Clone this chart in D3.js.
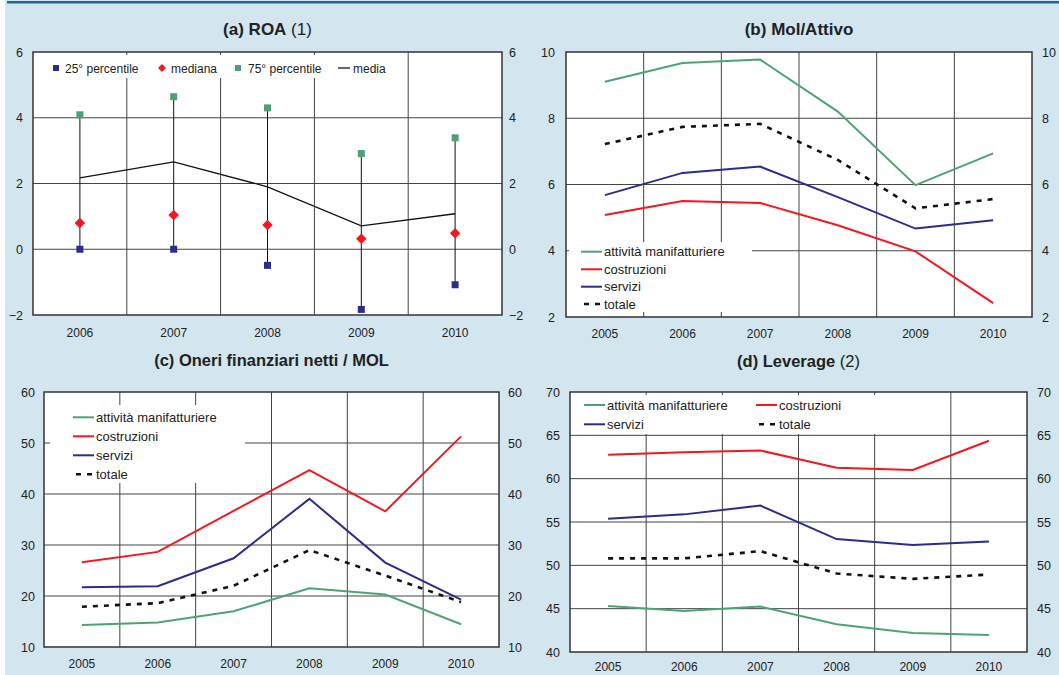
<!DOCTYPE html>
<html>
<head>
<meta charset="utf-8">
<script src="https://cdn.jsdelivr.net/npm/d3@7"></script>
<style>
  body { margin: 0; background: #fff; }
  svg { display: block; font-family: "Liberation Sans", Arial, sans-serif; }
</style>
</head>
<body>
<svg id="chart" width="1059" height="675"></svg>
<script>
// panel (a) ROA
var YEARS_A = ["2006", "2007", "2008", "2009", "2010"];
var P25 = [0.0, 0.0, -0.49, -1.83, -1.08];
var MEDIANA = [0.80, 1.04, 0.74, 0.32, 0.49];
var P75 = [4.09, 4.64, 4.30, 2.91, 3.39];
var MEDIA = [2.17, 2.66, 1.90, 0.71, 1.08];

// panels (b)(c)(d)
var YEARS = ["2005", "2006", "2007", "2008", "2009", "2010"];
var SERIES = ["attività manifatturiere", "costruzioni", "servizi", "totale"];

var MOL_MANIF = [9.10, 9.67, 9.77, 8.20, 5.98, 6.94];
var MOL_COSTR = [5.08, 5.50, 5.44, 4.77, 3.98, 2.42];
var MOL_SERV = [5.68, 6.35, 6.54, 5.62, 4.67, 4.92];
var MOL_TOT = [7.22, 7.74, 7.83, 6.74, 5.28, 5.56];

var ONERI_MANIF = [14.3, 14.8, 17.0, 21.5, 20.3, 14.45];
var ONERI_COSTR = [26.6, 28.65, 36.7, 44.7, 36.6, 51.3];
var ONERI_SERV = [21.7, 21.9, 27.4, 39.05, 26.55, 19.3];
var ONERI_TOT = [17.9, 18.6, 22.0, 29.0, 24.0, 18.8];

var LEV_MANIF = [45.32, 44.74, 45.24, 43.2, 42.2, 41.96];
var LEV_COSTR = [62.75, 63.06, 63.25, 61.25, 61.0, 64.37];
var LEV_SERV = [55.38, 55.88, 56.89, 53.03, 52.34, 52.76];
var LEV_TOT = [50.8, 50.8, 51.64, 49.06, 48.44, 48.94];

var TICKS_A = [-2, 0, 2, 4, 6];
var TICKS_B = [2, 4, 6, 8, 10];
var TICKS_C = [10, 20, 30, 40, 50, 60];
var TICKS_D = [40, 45, 50, 55, 60, 65, 70];

var colors = { "attività manifatturiere": "#4ea374", "costruzioni": "#f5161e", "servizi": "#2c2c8e", "totale": "#111" };

var svg = d3.select("#chart");

svg.append("rect").attr("x", 0).attr("y", 0).attr("width", 1059).attr("height", 675).attr("fill", "#d3e5ef");
svg.append("rect").attr("x", 0).attr("y", 0).attr("width", 5).attr("height", 675).attr("fill", "#fff");
svg.append("rect").attr("x", 7).attr("y", 1).attr("width", 1052).attr("height", 2.5).attr("fill", "#1c6a96");

function makePanel(box, xdom, ydom, ticks) {
  var g = svg.append("g");
  var x = d3.scaleBand().domain(xdom).range([box.left, box.right]);
  var y = d3.scaleLinear().domain(ydom).range([box.bottom, box.top]);

  g.append("rect")
    .attr("x", box.left).attr("y", box.top)
    .attr("width", box.right - box.left).attr("height", box.bottom - box.top)
    .attr("fill", "#fff");

  // horizontal grid
  g.selectAll("line.hg")
    .data(ticks.slice(1, -1))
    .enter().append("line")
    .attr("x1", box.left).attr("x2", box.right)
    .attr("y1", function (d) { return y(d); })
    .attr("y2", function (d) { return y(d); })
    .attr("stroke", "#444").attr("stroke-width", 1);

  // vertical grid at band edges
  g.selectAll("line.vg")
    .data(xdom.slice(1))
    .enter().append("line")
    .attr("x1", function (d) { return x(d); })
    .attr("x2", function (d) { return x(d); })
    .attr("y1", box.top).attr("y2", box.bottom)
    .attr("stroke", "#444").attr("stroke-width", 1);

  // legend box hides the grid
  if (box.leg) {
    g.append("rect")
      .attr("x", box.leg[0]).attr("y", box.leg[1])
      .attr("width", box.leg[2]).attr("height", box.leg[3])
      .attr("fill", "#fff");
  }

  var fnt = "12.5px";
  g.append("g")
    .attr("transform", "translate(" + box.left + ",0)")
    .call(d3.axisLeft(y).tickValues(ticks).tickSize(0).tickPadding(box.padL))
    .call(function (a) { a.select(".domain").remove(); })
    .selectAll("text").style("font-size", fnt).attr("fill", "#222");

  g.append("g")
    .attr("transform", "translate(" + box.right + ",0)")
    .call(d3.axisRight(y).tickValues(ticks).tickSize(0).tickPadding(box.padR))
    .call(function (a) { a.select(".domain").remove(); })
    .selectAll("text").style("font-size", fnt).attr("fill", "#222");

  g.append("g")
    .attr("transform", "translate(0," + box.bottom + ")")
    .call(d3.axisBottom(x).tickSize(0).tickPadding(box.padB))
    .call(function (a) { a.select(".domain").remove(); })
    .selectAll("text").style("font-size", "12px").attr("fill", "#222");

  var t = g.append("text")
    .attr("x", (box.left + box.right) / 2)
    .attr("y", box.titleY)
    .attr("text-anchor", "middle")
    .style("font-size", box.titleSize)
    .attr("fill", "#222");
  t.append("tspan").style("font-weight", "bold").text(box.title);
  if (box.note) t.append("tspan").text(box.note);

  return { g: g, x: x, y: y };
}

function frame(p, box) {
  p.g.append("rect")
    .attr("x", box.left).attr("y", box.top)
    .attr("width", box.right - box.left).attr("height", box.bottom - box.top)
    .attr("fill", "none").attr("stroke", "#333").attr("stroke-width", 1.5);
}

function drawLines(p, data) {
  var line = d3.line()
    .x(function (d, i) { return p.x(YEARS[i]) + p.x.bandwidth() / 2; })
    .y(function (d) { return p.y(d); });
  SERIES.forEach(function (s, k) {
    p.g.append("path")
      .datum(data[k])
      .attr("d", line)
      .attr("fill", "none")
      .attr("stroke", colors[s])
      .attr("stroke-width", s === "totale" ? 2.6 : 2)
      .attr("stroke-dasharray", s === "totale" ? "5,6" : null);
  });
}

function drawLegend(p, items) {
  items.forEach(function (it) {
    var s = it[0];
    p.g.append("line")
      .attr("x1", it[1]).attr("x2", it[1] + 21)
      .attr("y1", it[2]).attr("y2", it[2])
      .attr("stroke", colors[s])
      .attr("stroke-width", s === "totale" ? 2.6 : 2)
      .attr("stroke-dasharray", s === "totale" ? "5,6" : null)
      .attr("stroke-dashoffset", s === "totale" ? -3 : null);
    p.g.append("text")
      .attr("x", it[1] + 23).attr("y", it[2] + 4.5)
      .style("font-size", "13px").attr("fill", "#222")
      .text(s);
  });
}

// (a)
var boxA = { left: 33, right: 502, top: 52, bottom: 315, padL: 10, padR: 7, padB: 13,
  title: "(a) ROA", note: " (1)", titleY: 35, titleSize: "17px", leg: [36, 55, 370, 23] };
var pa = makePanel(boxA, YEARS_A, [-2, 6], TICKS_A);
var cx = function (i) { return pa.x(YEARS_A[i]) + pa.x.bandwidth() / 2; };

pa.g.selectAll("line.hl")
  .data(YEARS_A)
  .enter().append("line")
  .attr("x1", function (d, i) { return cx(i); })
  .attr("x2", function (d, i) { return cx(i); })
  .attr("y1", function (d, i) { return pa.y(P25[i]); })
  .attr("y2", function (d, i) { return pa.y(P75[i]); })
  .attr("stroke", "#111").attr("stroke-width", 1);

pa.g.append("path")
  .datum(MEDIA)
  .attr("d", d3.line().x(function (d, i) { return cx(i); }).y(function (d) { return pa.y(d); }))
  .attr("fill", "none").attr("stroke", "#111").attr("stroke-width", 1.3);

function squares(vals, col) {
  pa.g.selectAll(null)
    .data(vals)
    .enter().append("rect")
    .attr("x", function (d, i) { return cx(i) - 3.5; })
    .attr("y", function (d) { return pa.y(d) - 3.5; })
    .attr("width", 7).attr("height", 7)
    .attr("fill", col);
}
squares(P25, "#2c2c8e");
squares(P75, "#4e9f73");

pa.g.selectAll(null)
  .data(MEDIANA)
  .enter().append("path")
  .attr("d", d3.symbol(d3.symbolDiamond2, 70))
  .attr("transform", function (d, i) { return "translate(" + cx(i) + "," + pa.y(d) + ")"; })
  .attr("fill", "#f5161e");

// legend (a)
var la = pa.g.append("g").style("font-size", "12px").attr("fill", "#222");
la.append("rect").attr("x", 53).attr("y", 65).attr("width", 6).attr("height", 6).attr("fill", "#2c2c8e");
la.append("text").attr("x", 65).attr("y", 72.5).text("25° percentile");
la.append("path").attr("d", d3.symbol(d3.symbolDiamond2, 40)).attr("transform", "translate(162,68)").attr("fill", "#f5161e");
la.append("text").attr("x", 171).attr("y", 72.5).text("mediana");
la.append("rect").attr("x", 235).attr("y", 65).attr("width", 6).attr("height", 6).attr("fill", "#4e9f73");
la.append("text").attr("x", 248).attr("y", 72.5).text("75° percentile");
la.append("line").attr("x1", 338).attr("x2", 350).attr("y1", 68).attr("y2", 68).attr("stroke", "#111").attr("stroke-width", 1.3);
la.append("text").attr("x", 353).attr("y", 72.5).text("media");
frame(pa, boxA);

// (b)
var boxB = { left: 566, right: 1032, top: 52, bottom: 317, padL: 11, padR: 10, padB: 12,
  title: "(b) Mol/Attivo", titleY: 35, titleSize: "17px", leg: [569, 242, 183, 70] };
var pb = makePanel(boxB, YEARS, [2, 10], TICKS_B);
drawLines(pb, [MOL_MANIF, MOL_COSTR, MOL_SERV, MOL_TOT]);
drawLegend(pb, [[SERIES[0], 581, 251.7], [SERIES[1], 581, 269.3], [SERIES[2], 581, 286.7], [SERIES[3], 581, 304]]);
frame(pb, boxB);

// (c)
var boxC = { left: 44, right: 499, top: 392, bottom: 647, padL: 9, padR: 9, padB: 12,
  title: "(c) Oneri finanziari netti / MOL", titleY: 366, titleSize: "16.5px", leg: [50, 405, 195, 78] };
var pc = makePanel(boxC, YEARS, [10, 60], TICKS_C);
drawLines(pc, [ONERI_MANIF, ONERI_COSTR, ONERI_SERV, ONERI_TOT]);
drawLegend(pc, [[SERIES[0], 73, 417.3], [SERIES[1], 73, 436.3], [SERIES[2], 73, 455.3], [SERIES[3], 73, 474.3]]);
frame(pc, boxC);

// (d)
var boxD = { left: 570, right: 1027, top: 392, bottom: 652, padL: 10, padR: 10, padB: 10,
  title: "(d) Leverage", note: " (2)", titleY: 367, titleSize: "16.5px", leg: [572, 395, 370, 39] };
var pd = makePanel(boxD, YEARS, [40, 70], TICKS_D);
drawLines(pd, [LEV_MANIF, LEV_COSTR, LEV_SERV, LEV_TOT]);
drawLegend(pd, [[SERIES[0], 584, 405], [SERIES[1], 756, 405], [SERIES[2], 584, 424.3], [SERIES[3], 756, 424.3]]);
frame(pd, boxD);
</script>
</body>
</html>
